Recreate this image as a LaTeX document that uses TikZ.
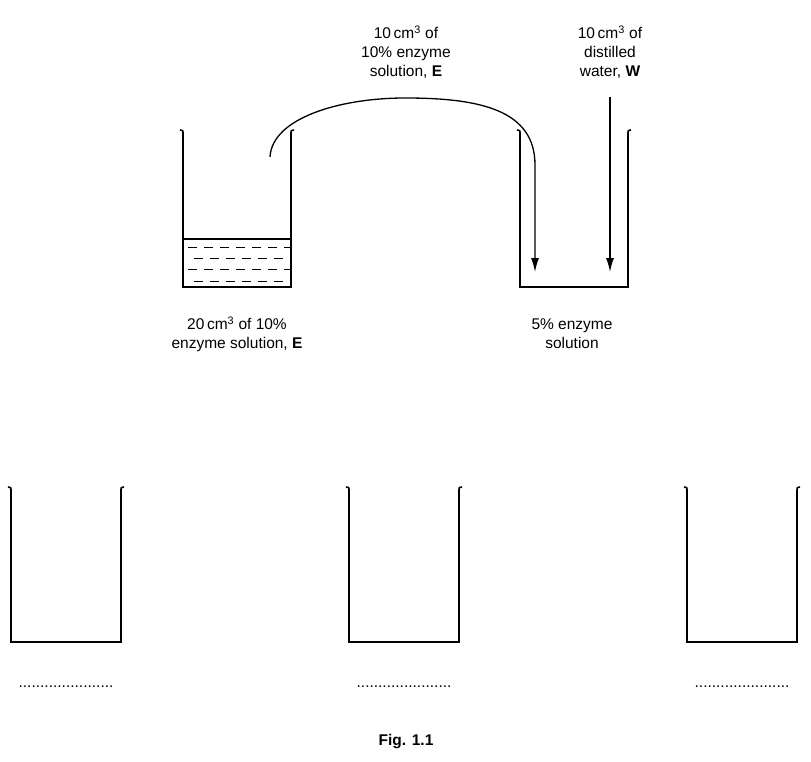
\documentclass[tikz,border=0pt]{standalone}
\usepackage{fontspec}
\setmainfont{Liberation Sans}
\usetikzlibrary{arrows.meta}
\begin{document}
\begin{tikzpicture}[x=1pt,y=-1pt,
  wall/.style={line width=1.6pt},
  lbl/.style={font=\fontsize{15.5}{19}\selectfont,align=center},
  dots/.style={font=\fontsize{15.5}{18}\selectfont},
  arr/.style={line width=1.3pt,-{Latex[length=14pt,width=8pt]}}]
\useasboundingbox (0,0) rectangle (811,762);
\newcommand{\beaker}[4]{% left x, right x, top y, bottom y
  \draw[wall] (#1-3,#3) .. controls (#1,#3) .. (#1,#3+5) -- (#1,#4) -- (#2,#4) -- (#2,#3+5) .. controls (#2,#3) .. (#2+3,#3);}
\beaker{183}{291}{130}{287}
\beaker{520}{628}{130}{287}
\beaker{11}{121}{487}{642}
\beaker{349}{459}{487}{642}
\beaker{687}{797}{487}{642}
% liquid
\draw[line width=1.2pt] (183,239) -- (291,239);
\foreach \y/\o in {247/0,258/-6,269/0,281/-6}
  \draw[line width=0.6pt,dash pattern=on 9pt off 7pt,dash phase=\o] (188,\y) -- (291,\y);
% arrows
\coordinate (s) at (270,157);
\coordinate (e) at (535,272);
\draw[arr] (s) .. controls (272,118) and (340,98) .. (405,98)
  .. controls (480,98) and (535,110) .. (535,165) -- (e);
\coordinate (ws) at (610,97);
\coordinate (we) at (610,272);
\draw[arr] (ws) -- (we);
% labels
\node[lbl] (t1) at (406,52) {10\,cm\textsuperscript{3} of\\10\% enzyme\\solution, \textbf{E}};
\node[lbl] (t2) at (610,52) {10\,cm\textsuperscript{3} of\\distilled\\water, \textbf{W}};
\node[lbl] (t3) at (237,334) {20\,cm\textsuperscript{3} of 10\%\\enzyme solution, \textbf{E}};
\node[lbl] (t4) at (572,334) {5\% enzyme\\solution};
\node[dots] (d1) at (66,687) {......................};
\node[dots] (d2) at (404,687) {......................};
\node[dots] (d3) at (742,687) {......................};
\node[lbl,font=\bfseries\fontsize{15.5}{18}\selectfont] (fig) at (406,742) {Fig. 1.1};
\end{tikzpicture}
\end{document}
